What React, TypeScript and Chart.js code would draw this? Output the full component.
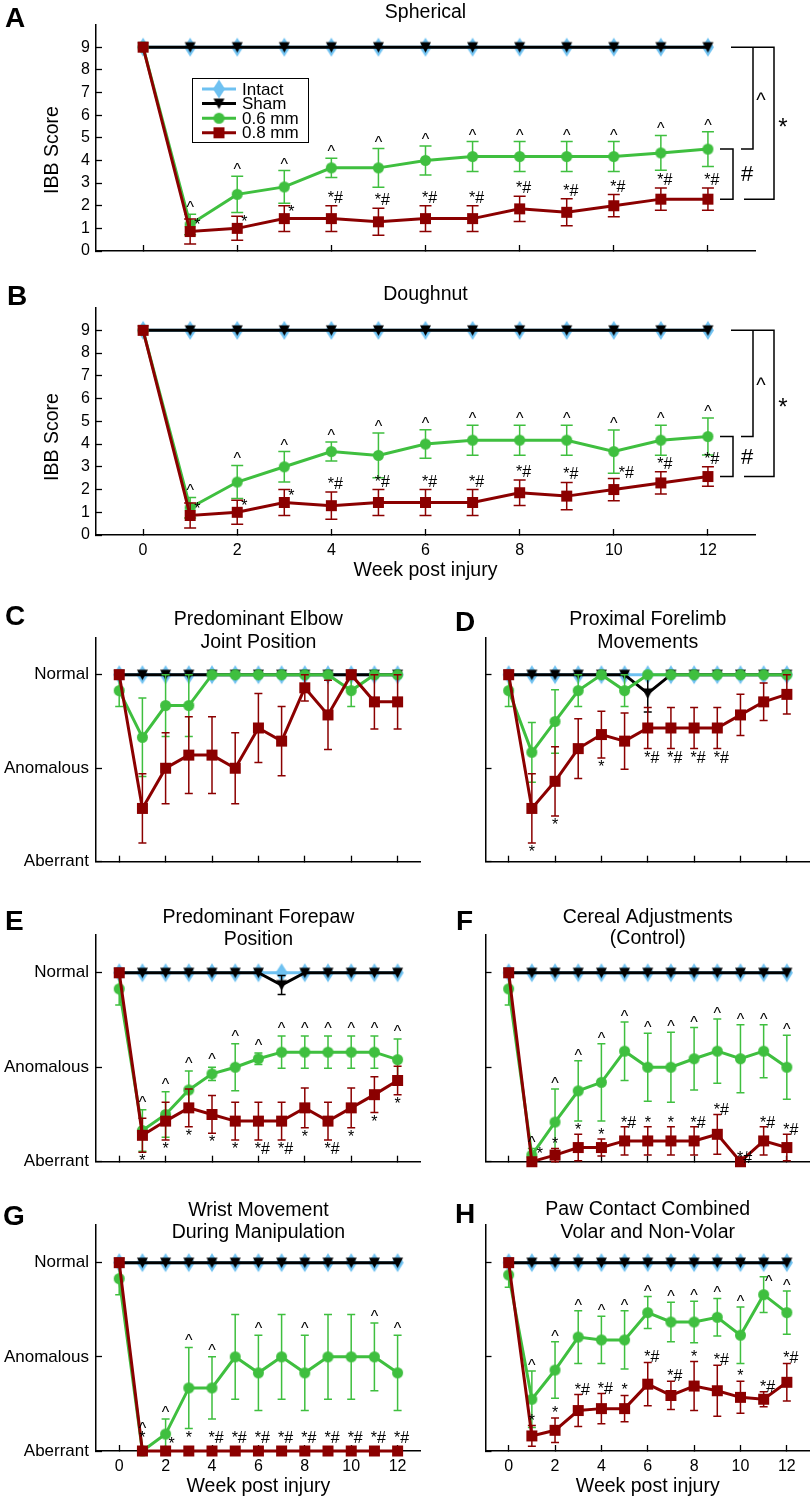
import React, { useEffect, useRef } from 'react';
import { Chart, registerables } from 'chart.js';

Chart.register(...registerables);

const FONT = "'Liberation Sans', Arial, Helvetica, sans-serif";
Chart.defaults.font.family = FONT;
Chart.defaults.color = '#000';

// ---------------- data ----------------
const WEEKS = [0, 1, 2, 3, 4, 5, 6, 7, 8, 9, 10, 11, 12];
const WEEK_TICKS = [0, 2, 4, 6, 8, 10, 12];
const IBB_TICKS = [0, 1, 2, 3, 4, 5, 6, 7, 8, 9];
const CAT_TICKS = [0, 1, 2];
const CAT_LABELS = ['Aberrant', 'Anomalous', 'Normal'];
const SERIES = ['Intact', 'Sham', '0.6 mm', '0.8 mm'];
const BRACKET_LABELS = ['^', '#', '*'];
const X_TITLE = 'Week post injury';
const Y_TITLE = 'IBB Score';

const NO_ERR = [0, 0, 0, 0, 0, 0, 0, 0, 0, 0, 0, 0, 0];
const INTACT_IBB = [9, 9, 9, 9, 9, 9, 9, 9, 9, 9, 9, 9, 9];
const SHAM_IBB = [9, 9, 9, 9, 9, 9, 9, 9, 9, 9, 9, 9, 9];
const INTACT_CAT = [2, 2, 2, 2, 2, 2, 2, 2, 2, 2, 2, 2, 2];
const SHAM_CAT = [2, 2, 2, 2, 2, 2, 2, 2, 2, 2, 2, 2, 2];
const SHAM_PROX = [2, 2, 2, 2, 2, 2, 1.8, 2, 2, 2, 2, 2, 2];
const SHAM_PROX_ERR = [0, 0, 0, 0, 0, 0, 0.2, 0, 0, 0, 0, 0, 0];
const SHAM_PAW = [2, 2, 2, 2, 2, 2, 2, 1.87, 2, 2, 2, 2, 2];
const SHAM_PAW_ERR = [0, 0, 0, 0, 0, 0, 0, 0.1, 0, 0, 0, 0, 0];

// A Spherical
const A_MM06 = [9, 1.17, 2.5, 2.83, 3.67, 3.67, 4.0, 4.17, 4.17, 4.17, 4.17, 4.33, 4.5];
const A_MM06_ERR = [0, 0.45, 0.8, 0.72, 0.42, 0.85, 0.64, 0.66, 0.66, 0.66, 0.66, 0.77, 0.77];
const A_MM08 = [9, 0.86, 1.0, 1.43, 1.43, 1.29, 1.43, 1.43, 1.86, 1.71, 2.0, 2.29, 2.29];
const A_MM08_ERR = [0, 0.55, 0.53, 0.57, 0.57, 0.6, 0.57, 0.57, 0.56, 0.6, 0.49, 0.49, 0.49];
const A_SIG06 = ['', '^', '^', '^', '^', '^', '^', '^', '^', '^', '^', '^', '^'];
const A_SIG08 = ['', '*', '*', '*', '*#', '*#', '*#', '*#', '*#', '*#', '*#', '*#', '*#'];

// B Doughnut
const B_MM06 = [9, 1.2, 2.33, 3.0, 3.67, 3.5, 4.0, 4.17, 4.17, 4.17, 3.67, 4.17, 4.33];
const B_MM06_ERR = [0, 0.45, 0.73, 0.67, 0.42, 0.98, 0.63, 0.66, 0.66, 0.66, 0.95, 0.66, 0.81];
const B_MM08 = [9, 0.86, 1.0, 1.43, 1.29, 1.43, 1.43, 1.43, 1.86, 1.71, 2.0, 2.29, 2.57];
const B_MM08_ERR = [0, 0.55, 0.53, 0.57, 0.6, 0.57, 0.57, 0.57, 0.56, 0.6, 0.49, 0.49, 0.43];
const B_SIG06 = ['', '^', '^', '^', '^', '^', '^', '^', '^', '^', '^', '^', '^'];
const B_SIG08 = ['', '*', '*', '*', '*#', '*#', '*#', '*#', '*#', '*#', '*#', '*#', '*#'];

// C Predominant Elbow Joint Position
const C_MM06 = [1.83, 1.33, 1.67, 1.67, 2, 2, 2, 2, 2, 2, 1.83, 2, 2];
const C_MM06_ERR = [0.17, 0.42, 0.33, 0.33, 0, 0, 0, 0, 0, 0, 0.17, 0, 0];
const C_MM08 = [2, 0.57, 1.0, 1.14, 1.14, 1.0, 1.43, 1.29, 1.86, 1.57, 2, 1.71, 1.71];
const C_MM08_ERR = [0, 0.37, 0.38, 0.41, 0.41, 0.38, 0.37, 0.37, 0.14, 0.37, 0, 0.29, 0.29];
const C_SIG06 = ['', '', '', '', '', '', '', '', '', '', '', '', ''];
const C_SIG08 = ['', '', '', '', '', '', '', '', '', '', '', '', ''];

// D Proximal Forelimb Movements
const D_MM06 = [1.83, 1.17, 1.5, 1.83, 2, 1.83, 2, 2, 2, 2, 2, 2, 2];
const D_MM06_ERR = [0.17, 0.32, 0.34, 0.17, 0, 0.17, 0, 0, 0, 0, 0, 0, 0];
const D_MM08 = [2, 0.57, 0.86, 1.21, 1.36, 1.29, 1.43, 1.43, 1.43, 1.43, 1.57, 1.71, 1.79];
const D_MM08_ERR = [0, 0.37, 0.37, 0.32, 0.25, 0.3, 0.22, 0.22, 0.22, 0.22, 0.22, 0.2, 0.21];
const D_SIG06 = ['', '', '', '', '', '', '', '', '', '', '', '', ''];
const D_SIG08 = ['', '*', '*', '', '*', '', '*#', '*#', '*#', '*#', '', '', ''];

// E Predominant Forepaw Position
const E_MM06 = [1.83, 0.33, 0.5, 0.76, 0.93, 1.0, 1.09, 1.16, 1.16, 1.16, 1.16, 1.16, 1.08];
const E_MM06_ERR = [0.17, 0.22, 0.24, 0.2, 0.07, 0.25, 0.06, 0.17, 0.17, 0.17, 0.17, 0.17, 0.22];
const E_MM08 = [2, 0.28, 0.43, 0.57, 0.5, 0.43, 0.43, 0.43, 0.57, 0.43, 0.57, 0.71, 0.86];
const E_MM08_ERR = [0, 0.18, 0.2, 0.2, 0.2, 0.2, 0.2, 0.2, 0.21, 0.2, 0.21, 0.19, 0.15];
const E_SIG06 = ['', '^', '^', '^', '^', '^', '^', '^', '^', '^', '^', '^', '^'];
const E_SIG08 = ['', '*', '*', '*', '*', '*', '*#', '*#', '*', '*#', '*', '*', '*'];

// F Cereal Adjustments (Control)
const F_MM06 = [1.83, 0.07, 0.42, 0.75, 0.84, 1.17, 1.0, 1.0, 1.09, 1.17, 1.09, 1.17, 1.0];
const F_MM06_ERR = [0.17, 0.07, 0.35, 0.32, 0.41, 0.31, 0.36, 0.37, 0.33, 0.34, 0.36, 0.28, 0.34];
const F_MM08 = [2, 0, 0.07, 0.15, 0.15, 0.22, 0.22, 0.22, 0.22, 0.29, 0, 0.22, 0.15];
const F_MM08_ERR = [0, 0, 0.07, 0.14, 0.09, 0.15, 0.15, 0.15, 0.15, 0.21, 0, 0.15, 0.14];
const F_SIG06 = ['', '^', '^', '^', '^', '^', '^', '^', '^', '^', '^', '^', '^'];
const F_SIG08 = ['', '*', '*', '*', '*', '*#', '*', '*', '*#', '*#', '*#', '*#', '*#'];

// G Wrist Movement During Manipulation
const G_MM06 = [1.83, 0, 0.18, 0.67, 0.67, 1.0, 0.83, 1.0, 0.83, 1.0, 1.0, 1.0, 0.83];
const G_MM06_ERR = [0.17, 0, 0.16, 0.43, 0.33, 0.45, 0.4, 0.45, 0.4, 0.45, 0.45, 0.36, 0.4];
const G_MM08 = [2, 0, 0, 0, 0, 0, 0, 0, 0, 0, 0, 0, 0];
const G_MM08_ERR = [0, 0, 0, 0, 0, 0, 0, 0, 0, 0, 0, 0, 0];
const G_SIG06 = ['', '^', '^', '^', '^', '', '^', '', '^', '', '', '^', '^'];
const G_SIG08 = ['', '*', '*', '*', '*#', '*#', '*#', '*#', '*#', '*#', '*#', '*#', '*#'];

// H Paw Contact Combined Volar and Non-Volar
const H_MM06 = [1.87, 0.55, 0.86, 1.21, 1.18, 1.18, 1.47, 1.37, 1.37, 1.42, 1.23, 1.66, 1.47];
const H_MM06_ERR = [0.13, 0.3, 0.3, 0.28, 0.25, 0.31, 0.17, 0.21, 0.22, 0.2, 0.3, 0.19, 0.23];
const H_MM08 = [2, 0.16, 0.22, 0.43, 0.45, 0.45, 0.71, 0.59, 0.69, 0.64, 0.57, 0.55, 0.73];
const H_MM08_ERR = [0, 0.11, 0.13, 0.17, 0.16, 0.14, 0.23, 0.15, 0.26, 0.27, 0.17, 0.08, 0.2];
const H_SIG06 = ['', '^', '^', '^', '^', '^', '^', '^', '^', '^', '^', '^', '^'];
const H_SIG08 = ['', '*', '*', '*#', '*#', '*', '*#', '*#', '*', '*#', '*', '*#', '*#'];

// ---------------- styles ----------------
const COL_INTACT = '#6EC1F1';
const COL_SHAM = '#000000';
const COL_06 = '#3FBF3F';
const COL_08 = '#8B0000';

type Ov = { dx: number; dy: number; align: CanvasTextAlign };

interface PanelCfg {
  key: string;
  letter: string;
  letterAt: [number, number];
  title: string[];
  titleY: number[];
  kind: 'ibb' | 'cat';
  canvas: { left: number; top: number; width: number; height: number };
  area: { left: number; top: number; right: number; bottom: number };
  showY: boolean;
  showX: boolean;
  xTitle: boolean;
  yTitleAt?: [number, number];
  intact: number[];
  sham: number[];
  shamErr: number[];
  mm06: number[];
  mm06Err: number[];
  mm08: number[];
  mm08Err: number[];
  sig06: string[];
  sig08: string[];
  redMode: 'above' | 'below';
  redDy: number;
  greenDy: number;
  redOv?: Record<number, Ov>;
  greenOv?: Record<number, Ov>;
  legend?: boolean;
  brackets?: boolean;
  cap: number;
}

const SIDE: Ov = { dx: 4, dy: 11, align: 'left' };

const PANELS: PanelCfg[] = [
  {
    key: 'A', letter: 'A', letterAt: [5, 27], title: ['Spherical'], titleY: [18], kind: 'ibb',
    canvas: { left: 0, top: 0, width: 810, height: 262 },
    area: { left: 96, top: 24.5, right: 755, bottom: 251 },
    showY: true, showX: false, xTitle: false, yTitleAt: [53, 150],
    intact: INTACT_IBB, sham: SHAM_IBB, shamErr: NO_ERR,
    mm06: A_MM06, mm06Err: A_MM06_ERR, mm08: A_MM08, mm08Err: A_MM08_ERR,
    sig06: A_SIG06, sig08: A_SIG08, redMode: 'above', redDy: -3, greenDy: -1,
    redOv: { 1: SIDE, 2: SIDE, 3: SIDE }, legend: true, brackets: true, cap: 6,
  },
  {
    key: 'B', letter: 'B', letterAt: [7, 305], title: ['Doughnut'], titleY: [300], kind: 'ibb',
    canvas: { left: 0, top: 262, width: 810, height: 320 },
    area: { left: 96, top: 307.6, right: 755, bottom: 535 },
    showY: true, showX: true, xTitle: true, yTitleAt: [53, 437],
    intact: INTACT_IBB, sham: SHAM_IBB, shamErr: NO_ERR,
    mm06: B_MM06, mm06Err: B_MM06_ERR, mm08: B_MM08, mm08Err: B_MM08_ERR,
    sig06: B_SIG06, sig08: B_SIG08, redMode: 'above', redDy: -3, greenDy: -1,
    redOv: { 1: SIDE, 2: SIDE, 3: SIDE, 10: { dx: 5, dy: 0, align: 'left' } }, brackets: true, cap: 6,
  },
  {
    key: 'C', letter: 'C', letterAt: [5, 625], title: ['Predominant Elbow', 'Joint Position'], titleY: [625, 648], kind: 'cat',
    canvas: { left: 0, top: 592, width: 425, height: 288 },
    area: { left: 96, top: 637.3, right: 420.8, bottom: 861.7 },
    showY: true, showX: false, xTitle: false,
    intact: INTACT_CAT, sham: SHAM_CAT, shamErr: NO_ERR,
    mm06: C_MM06, mm06Err: C_MM06_ERR, mm08: C_MM08, mm08Err: C_MM08_ERR,
    sig06: C_SIG06, sig08: C_SIG08, redMode: 'above', redDy: 0, greenDy: 0, cap: 4,
  },
  {
    key: 'D', letter: 'D', letterAt: [455, 631], title: ['Proximal Forelimb', 'Movements'], titleY: [625, 647.5], kind: 'cat',
    canvas: { left: 425, top: 592, width: 385, height: 288 },
    area: { left: 485.5, top: 637.3, right: 810, bottom: 861.7 },
    showY: false, showX: false, xTitle: false,
    intact: INTACT_CAT, sham: SHAM_PROX, shamErr: SHAM_PROX_ERR,
    mm06: D_MM06, mm06Err: D_MM06_ERR, mm08: D_MM08, mm08Err: D_MM08_ERR,
    sig06: D_SIG06, sig08: D_SIG08, redMode: 'below', redDy: 14, greenDy: 0, cap: 4,
  },
  {
    key: 'E', letter: 'E', letterAt: [5, 930], title: ['Predominant Forepaw', 'Position'], titleY: [923, 945], kind: 'cat',
    canvas: { left: 0, top: 890, width: 425, height: 285 },
    area: { left: 96, top: 935, right: 420.8, bottom: 1161.7 },
    showY: true, showX: false, xTitle: false,
    intact: INTACT_CAT, sham: SHAM_PAW, shamErr: SHAM_PAW_ERR,
    mm06: E_MM06, mm06Err: E_MM06_ERR, mm08: E_MM08, mm08Err: E_MM08_ERR,
    sig06: E_SIG06, sig08: E_SIG08, redMode: 'below', redDy: 14, greenDy: -2, cap: 4,
  },
  {
    key: 'F', letter: 'F', letterAt: [456, 930], title: ['Cereal Adjustments', '(Control)'], titleY: [922.7, 944], kind: 'cat',
    canvas: { left: 425, top: 890, width: 385, height: 285 },
    area: { left: 485.5, top: 935, right: 810, bottom: 1161.7 },
    showY: false, showX: false, xTitle: false,
    intact: INTACT_CAT, sham: SHAM_CAT, shamErr: NO_ERR,
    mm06: F_MM06, mm06Err: F_MM06_ERR, mm08: F_MM08, mm08Err: F_MM08_ERR,
    sig06: F_SIG06, sig08: F_SIG08, redMode: 'above', redDy: 1, greenDy: 0,
    redOv: { 1: { dx: 5, dy: -3, align: 'left' } }, cap: 4,
  },
  {
    key: 'G', letter: 'G', letterAt: [3, 1225], title: ['Wrist Movement', 'During Manipulation'], titleY: [1216, 1238.3], kind: 'cat',
    canvas: { left: 0, top: 1180, width: 425, height: 318 },
    area: { left: 96, top: 1225, right: 420.8, bottom: 1451 },
    showY: true, showX: true, xTitle: true,
    intact: INTACT_CAT, sham: SHAM_CAT, shamErr: NO_ERR,
    mm06: G_MM06, mm06Err: G_MM06_ERR, mm08: G_MM08, mm08Err: G_MM08_ERR,
    sig06: G_SIG06, sig08: G_SIG08, redMode: 'above', redDy: -8, greenDy: -1,
    redOv: { 2: { dx: 3, dy: -2, align: 'left' } },
    greenOv: { 1: { dx: 0, dy: -17, align: 'center' } }, cap: 4,
  },
  {
    key: 'H', letter: 'H', letterAt: [455, 1223], title: ['Paw Contact Combined', 'Volar and Non-Volar'], titleY: [1215, 1238], kind: 'cat',
    canvas: { left: 425, top: 1180, width: 385, height: 318 },
    area: { left: 485.5, top: 1225, right: 810, bottom: 1451 },
    showY: false, showX: true, xTitle: true,
    intact: INTACT_CAT, sham: SHAM_CAT, shamErr: NO_ERR,
    mm06: H_MM06, mm06Err: H_MM06_ERR, mm08: H_MM08, mm08Err: H_MM08_ERR,
    sig06: H_SIG06, sig08: H_SIG08, redMode: 'above', redDy: 0, greenDy: 0,
    greenOv: { 11: { dx: 5, dy: 10, align: 'center' } }, cap: 4,
  },
];

// ---------------- markers ----------------
function makeMarker(kind: string, color: string): HTMLCanvasElement {
  const c = document.createElement('canvas');
  let w = 11, h = 11;
  if (kind === 'diamond') { w = 12; h = 19; }
  if (kind === 'tri') { w = 11; h = 11; }
  if (kind === 'circle') { w = 11; h = 11; }
  c.width = w + 2; c.height = h + 2;
  const g = c.getContext('2d') as CanvasRenderingContext2D;
  g.fillStyle = color;
  const cx = c.width / 2, cy = c.height / 2;
  g.beginPath();
  if (kind === 'diamond') {
    g.moveTo(cx, 1); g.lineTo(w + 1, cy); g.lineTo(cx, h + 1); g.lineTo(1, cy);
  } else if (kind === 'tri') {
    g.moveTo(1, 1.5); g.lineTo(w + 1, 1.5); g.lineTo(cx, h + 1);
  } else if (kind === 'circle') {
    g.arc(cx, cy, w / 2, 0, Math.PI * 2);
  } else {
    g.rect(1, 1, w, h);
  }
  g.closePath();
  g.fill();
  return c;
}

// ---------------- plugins ----------------
const errorBarPlugin = {
  id: 'errbars',
  beforeDatasetDraw(chart: any, args: any) {
    const ds: any = chart.data.datasets[args.index];
    if (!ds.errors) return;
    const xs = chart.scales.x, ys = chart.scales.y;
    const ctx: CanvasRenderingContext2D = chart.ctx;
    ctx.save();
    ctx.strokeStyle = ds.borderColor;
    ctx.lineWidth = 1.5;
    const cap = ds.capHalf || 4;
    ds.data.forEach((p: any, i: number) => {
      const e = ds.errors[i];
      if (!e) return;
      const x = xs.getPixelForValue(p.x);
      const y1 = ys.getPixelForValue(p.y + e);
      const y2 = ys.getPixelForValue(p.y - e);
      ctx.beginPath();
      ctx.moveTo(x, y1); ctx.lineTo(x, y2);
      ctx.moveTo(x - cap, y1); ctx.lineTo(x + cap, y1);
      ctx.moveTo(x - cap, y2); ctx.lineTo(x + cap, y2);
      ctx.stroke();
    });
    ctx.restore();
  },
};

function drawSig(ctx: CanvasRenderingContext2D, xs: any, ys: any, vals: number[], errs: number[], labels: string[],
  mode: 'above' | 'below', dy: number, ov?: Record<number, Ov>) {
  ctx.font = `16px ${FONT}`;
  ctx.textBaseline = 'alphabetic';
  labels.forEach((lab, i) => {
    if (!lab) return;
    const x = xs.getPixelForValue(WEEKS[i]);
    let bx = x + (lab === '*#' ? 4 : 0);
    let by: number;
    let align: CanvasTextAlign = 'center';
    if (mode === 'above') {
      const yTop = ys.getPixelForValue(vals[i] + errs[i]);
      by = yTop + dy;
      const o = ov && ov[i];
      if (o) { bx = x + o.dx; by = yTop + o.dy; align = o.align; }
    } else {
      const yBot = ys.getPixelForValue(vals[i] - errs[i]);
      by = yBot + dy;
    }
    ctx.textAlign = align;
    ctx.fillText(lab, bx, by);
  });
}

function makeDecor(cfg: PanelCfg, markers: any) {
  return {
    id: 'decor' + cfg.key,
    afterDraw(chart: any) {
      const ctx: CanvasRenderingContext2D = chart.ctx;
      const ca = chart.chartArea;
      const xs = chart.scales.x, ys = chart.scales.y;
      const ox = cfg.canvas.left, oy = cfg.canvas.top;
      ctx.save();
      ctx.fillStyle = '#000';
      // panel letter
      ctx.font = `bold 28px ${FONT}`;
      ctx.textAlign = 'left';
      ctx.textBaseline = 'alphabetic';
      ctx.fillText(cfg.letter, cfg.letterAt[0] - ox, cfg.letterAt[1] - oy);
      // title
      ctx.font = `19.5px ${FONT}`;
      ctx.textAlign = 'center';
      const cx = (ca.left + ca.right) / 2;
      cfg.title.forEach((t, i) => ctx.fillText(t, cx, cfg.titleY[i] - oy));
      // y title
      if (cfg.yTitleAt) {
        ctx.save();
        ctx.translate(cfg.yTitleAt[0] - ox, cfg.yTitleAt[1] - oy);
        ctx.rotate(-Math.PI / 2);
        ctx.textAlign = 'center';
        ctx.textBaseline = 'middle';
        ctx.font = `19.5px ${FONT}`;
        ctx.fillText(Y_TITLE, 0, 0);
        ctx.restore();
      }
      // significance marks
      drawSig(ctx, xs, ys, cfg.mm06, cfg.mm06Err, cfg.sig06, 'above', cfg.greenDy, cfg.greenOv);
      drawSig(ctx, xs, ys, cfg.mm08, cfg.mm08Err, cfg.sig08, cfg.redMode, cfg.redDy, cfg.redOv);
      // legend
      if (cfg.legend) {
        const lx = 192 - ox, ly = 78 - oy, lw = 116, lh = 64;
        ctx.fillStyle = '#fff';
        ctx.fillRect(lx, ly, lw, lh);
        ctx.strokeStyle = '#000';
        ctx.lineWidth = 1;
        ctx.strokeRect(lx + 0.5, ly + 0.5, lw, lh);
        const cols = [COL_INTACT, COL_SHAM, COL_06, COL_08];
        const mk = [markers.diamond, markers.tri, markers.circle, markers.square];
        ctx.font = `17px ${FONT}`;
        ctx.textAlign = 'left';
        ctx.textBaseline = 'middle';
        SERIES.forEach((name, i) => {
          const ry = ly + 11 + i * 14.6;
          ctx.strokeStyle = cols[i];
          ctx.lineWidth = 3;
          ctx.beginPath();
          ctx.moveTo(lx + 10, ry); ctx.lineTo(lx + 44, ry);
          ctx.stroke();
          const m = mk[i];
          ctx.drawImage(m, lx + 27 - m.width / 2, ry - m.height / 2);
          ctx.fillStyle = '#000';
          ctx.fillText(name, lx + 50, ry + 1);
        });
      }
      // brackets
      if (cfg.brackets) {
        const R = ca.right;
        const yS = ys.getPixelForValue(cfg.sham[12]);
        const yG = ys.getPixelForValue(cfg.mm06[12]);
        const yR = ys.getPixelForValue(cfg.mm08[12]);
        ctx.strokeStyle = '#000';
        ctx.lineWidth = 1.5;
        ctx.beginPath();
        // ^ bracket: sham vs 0.6
        ctx.moveTo(R - 24, yS); ctx.lineTo(R - 2, yS); ctx.lineTo(R - 2, yG); ctx.lineTo(R - 14, yG);
        // # bracket: 0.6 vs 0.8
        ctx.moveTo(R - 35, yG); ctx.lineTo(R - 22, yG); ctx.lineTo(R - 22, yR); ctx.lineTo(R - 35, yR);
        // * bracket: sham vs 0.8
        ctx.moveTo(R - 4, yS); ctx.lineTo(R + 19, yS); ctx.lineTo(R + 19, yR); ctx.lineTo(R - 11, yR);
        ctx.stroke();
        ctx.fillStyle = '#000';
        ctx.textAlign = 'center';
        ctx.textBaseline = 'middle';
        ctx.font = `20px ${FONT}`;
        ctx.fillText(BRACKET_LABELS[0], R + 6, (yS + yG) / 2 + 3);
        ctx.font = `22px ${FONT}`;
        ctx.fillText(BRACKET_LABELS[1], R - 8, (yG + yR) / 2 + 1);
        ctx.font = `24px ${FONT}`;
        ctx.fillText(BRACKET_LABELS[2], R + 28, (yS + yR) / 2 + 5);
      }
      ctx.restore();
    },
  };
}

function pts(vals: number[]) {
  return WEEKS.map((w, i) => ({ x: w, y: vals[i] }));
}

function buildConfig(cfg: PanelCfg, markers: any): any {
  const yWidth = cfg.area.left - cfg.canvas.left;
  const xHeight = cfg.canvas.top + cfg.canvas.height - cfg.area.bottom;
  const padTop = cfg.area.top - cfg.canvas.top;
  const padRight = cfg.canvas.left + cfg.canvas.width - cfg.area.right;
  const ibb = cfg.kind === 'ibb';
  const mkDs = (label: string, vals: number[], errs: number[], color: string, marker: any, order: number) => ({
    label,
    data: pts(vals),
    errors: errs,
    capHalf: cfg.cap,
    borderColor: color,
    backgroundColor: color,
    borderWidth: 3,
    pointStyle: marker,
    pointRadius: 6,
    pointHoverRadius: 6,
    tension: 0,
    clip: false,
    order,
  });
  const gridCommon = {
    display: true,
    drawOnChartArea: false,
    drawTicks: true,
    tickLength: -6,
    tickColor: '#000',
    tickWidth: 1.3,
  };
  return {
    type: 'line',
    data: {
      datasets: [
        mkDs(SERIES[0], cfg.intact, NO_ERR, COL_INTACT, markers.diamond, 4),
        mkDs(SERIES[1], cfg.sham, cfg.shamErr, COL_SHAM, markers.tri, 3),
        mkDs(SERIES[2], cfg.mm06, cfg.mm06Err, COL_06, markers.circle, 2),
        mkDs(SERIES[3], cfg.mm08, cfg.mm08Err, COL_08, markers.square, 1),
      ],
    },
    options: {
      animation: false,
      responsive: false,
      maintainAspectRatio: false,
      devicePixelRatio: 1,
      events: [],
      layout: { autoPadding: false, padding: { left: 0, top: padTop, right: padRight, bottom: 0 } },
      plugins: { legend: { display: false }, tooltip: { enabled: false }, title: { display: false } },
      scales: {
        x: {
          type: 'linear',
          min: -1,
          max: 13,
          afterBuildTicks: (s: any) => { s.ticks = WEEK_TICKS.map((v) => ({ value: v })); },
          afterFit: (s: any) => { s.height = xHeight; s.paddingLeft = 0; s.paddingRight = 0; },
          ticks: {
            display: cfg.showX,
            autoSkip: false,
            maxRotation: 0,
            padding: 12,
            color: '#000',
            font: { size: 16, family: FONT },
            callback: (v: any) => String(v),
          },
          grid: gridCommon,
          border: { display: true, color: '#000', width: 1.5 },
          title: {
            display: cfg.xTitle,
            text: X_TITLE,
            color: '#000',
            font: { size: 19.5, family: FONT },
            padding: { top: 0, bottom: 0 },
          },
        },
        y: {
          type: 'linear',
          min: 0,
          max: ibb ? 10 : 2.4,
          afterBuildTicks: (s: any) => { s.ticks = (ibb ? IBB_TICKS : CAT_TICKS).map((v) => ({ value: v })); },
          afterFit: (s: any) => { s.width = yWidth; s.paddingTop = 0; s.paddingBottom = 0; },
          ticks: {
            display: cfg.showY,
            autoSkip: false,
            padding: ibb ? 12 : 13,
            color: '#000',
            font: { size: ibb ? 16 : 17, family: FONT },
            callback: (v: any) => (ibb ? String(v) : (CAT_LABELS[v] ?? '')),
          },
          grid: gridCommon,
          border: { display: true, color: '#000', width: 1.5 },
        },
      },
    },
    plugins: [errorBarPlugin, makeDecor(cfg, markers)],
  };
}

function Panel({ cfg }: { cfg: PanelCfg }) {
  const ref = useRef<HTMLCanvasElement>(null);
  useEffect(() => {
    const markers = {
      diamond: makeMarker('diamond', COL_INTACT),
      tri: makeMarker('tri', COL_SHAM),
      circle: makeMarker('circle', COL_06),
      square: makeMarker('square', COL_08),
    };
    const chart = new Chart(ref.current as HTMLCanvasElement, buildConfig(cfg, markers));
    return () => chart.destroy();
  }, [cfg]);
  const c = cfg.canvas;
  return (
    <canvas
      ref={ref}
      width={c.width}
      height={c.height}
      style={{ position: 'absolute', left: c.left, top: c.top, width: c.width, height: c.height }}
    />
  );
}

export default function App() {
  return (
    <div style={{ position: 'absolute', left: 0, top: 0, width: 810, height: 1498, background: '#fff', overflow: 'hidden' }}>
      {PANELS.map((p) => (
        <Panel key={p.key} cfg={p} />
      ))}
    </div>
  );
}
